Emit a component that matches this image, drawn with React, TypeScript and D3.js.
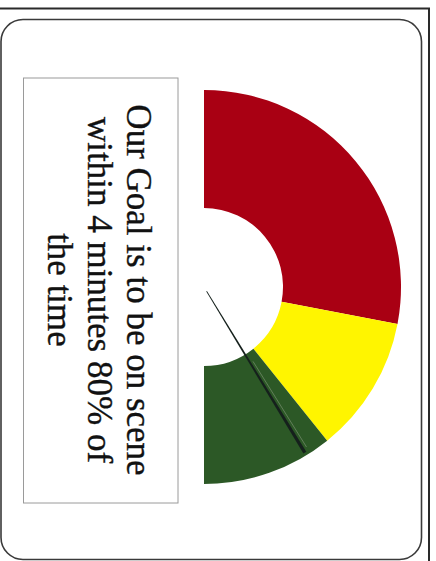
import React from "react";
import * as d3 from "d3";

// Gauge bands (value scale 0..100, start at top, sweeping clockwise to bottom)
const bandNames = ["Poor", "Fair", "Good"];
const bandStarts = [0, 56, 78.5];
const bandEnds = [56, 78.5, 100];
const bandColors = ["#A90013", "#FFF500", "#2C5826"];
const needleValue = [82.6];
const textLines = ["Our Goal is to be on scene", "within 4 minutes 80% of", "the time"];

const W = 436;
const H = 561;

export default function App() {
  const cx = 204;
  const cy = 287;
  const outerR = 197;
  const innerR = 79;

  const angle = d3.scaleLinear().domain([0, 100]).range([0, Math.PI]);
  const arc = d3.arc<any>().innerRadius(innerR).outerRadius(outerR);

  const bands = bandNames.map((n, i) => ({
    name: n,
    color: bandColors[i],
    path: arc({ startAngle: angle(bandStarts[i]), endAngle: angle(bandEnds[i]) }) as string,
  }));

  const a = angle(needleValue[0]);
  const dir = [Math.sin(a), -Math.cos(a)];
  const perp = [Math.cos(a), Math.sin(a)];
  const r0 = 5;
  const r1 = 194;
  const w0 = 0.4;
  const w1 = 1.7;
  const pt = (r: number, w: number) => [dir[0] * r + perp[0] * w, dir[1] * r + perp[1] * w];
  const needlePts = [pt(r0, -w0), pt(r1, -w1), pt(r1, w1), pt(r0, w0)];
  const needlePath = d3.line()(needlePts as [number, number][]) + "Z";
  const hl0 = pt(innerR + 10, -3.2);
  const hl1 = pt(r1 - 4, -4.4);

  return (
    <svg
      width={W}
      height={H}
      style={{ position: "absolute", left: 0, top: 0, background: "#fff" }}
    >
      <rect x={0} y={0} width={W} height={H} fill="#fff" />
      {/* outer frame */}
      <rect x={-2} y={8.5} width={431} height={H + 10} fill="none" stroke="#2a2a2a" strokeWidth={2} />
      {/* rounded panel */}
      <rect x={1} y={19.5} width={420.5} height={540} rx={22} ry={22} fill="#fff" stroke="#3a3a3a" strokeWidth={1.6} />
      {/* text box */}
      <rect x={23.5} y={78} width={154.5} height={425} fill="#fff" stroke="#9a9a9a" strokeWidth={1} />
      <text
        transform={`translate(127,290) rotate(90)`}
        fontFamily="'Liberation Serif', 'Times New Roman', serif"
        fontSize={35}
        fill="#111"
        stroke="#111"
        strokeWidth={0.35}
        textAnchor="middle"
      >
        {textLines.map((t, i) => (
          <tspan key={i} x={0} dy={i === 0 ? 0 : 39.5}>
            {t}
          </tspan>
        ))}
      </text>
      {/* gauge */}
      <g transform={`translate(${cx},${cy})`}>
        {bands.map((b) => (
          <path key={b.name} d={b.path} fill={b.color} />
        ))}
        <line x1={hl0[0]} y1={hl0[1]} x2={hl1[0]} y2={hl1[1]} stroke="#9aa88f" strokeWidth={0.7} opacity={0.7} />
        <path d={needlePath} fill="#15201c" />
      </g>
    </svg>
  );
}
